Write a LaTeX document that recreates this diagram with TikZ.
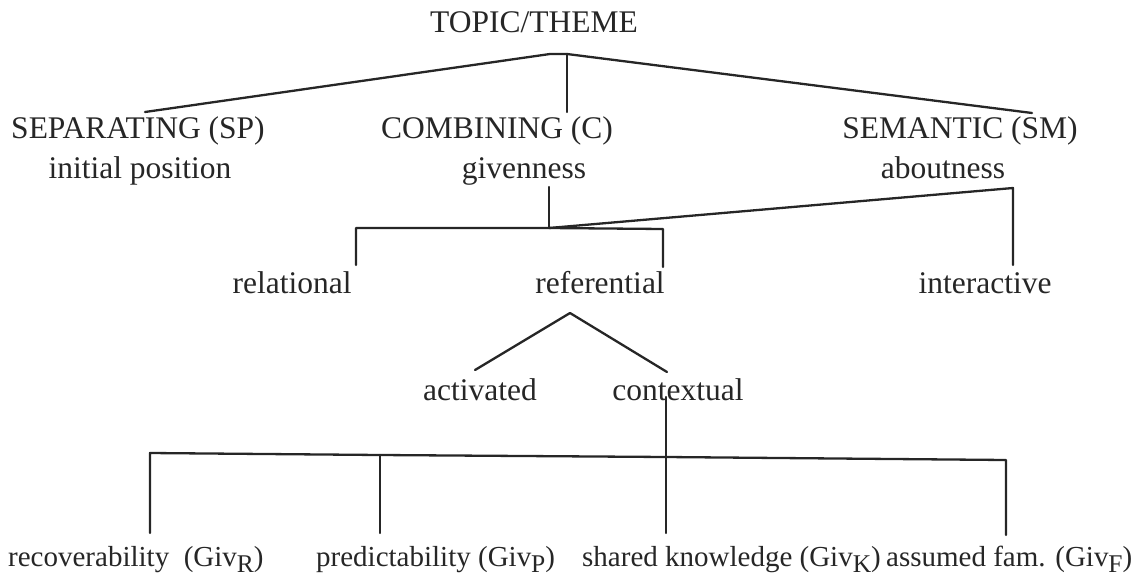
\documentclass[tikz,border=0pt]{standalone}
\usepackage{fontspec}
\setmainfont{Liberation Serif}
\definecolor{ink}{HTML}{262626}
\newcommand{\gsub}[1]{\raisebox{-6pt}{\fontsize{25.5}{26}\selectfont #1}}
\begin{document}
\begin{tikzpicture}[x=1pt,y=-1pt,
  lbl/.style={inner sep=0pt, anchor=base, font=\fontsize{31.5}{36}\selectfont, text=ink},
  blbl/.style={inner sep=0pt, anchor=base west, font=\fontsize{29}{34}\selectfont, text=ink},
  ln/.style={draw=ink, line width=2.3pt, line join=round, line cap=round}]
\useasboundingbox (0,0) rectangle (1139,578);
% labels
\node[lbl] (topic) at (534,33) {TOPIC/THEME};
\node[lbl] (sep) at (138,138) {SEPARATING (SP)};
\node[lbl] (comb) at (497,138) {COMBINING (C)};
\node[lbl] (sem) at (960,138) {SEMANTIC (SM)};
\node[lbl] (init) at (140,178) {initial position};
\node[lbl] (giv) at (524,178) {givenness};
\node[lbl] (about) at (943,178) {aboutness};
\node[lbl] (rel) at (292,293) {relational};
\node[lbl] (ref) at (600,293) {referential};
\node[lbl] (inter) at (985,293) {interactive};
\node[lbl] (act) at (480,400) {activated};
\node[lbl] (ctx) at (678,400) {contextual};
\node[blbl] (rec) at (8,566) {recoverability\ \ (Giv\gsub{R})};
\node[blbl] (pred) at (316,566) {predictability (Giv\gsub{P})};
\node[blbl] (shared) at (582,566) {shared knowledge (Giv\gsub{K})};
\node[blbl] (assm) at (886,566) {assumed fam. (Giv\gsub{F})};
% junction points
\coordinate (apL) at (550,54);
\coordinate (apR) at (567,54);
\coordinate (sepT) at (145,112);
\coordinate (combT) at (567,112);
\coordinate (semT) at (1032,113);
\coordinate (givB) at (549,187);
\coordinate (givJ) at (549,228);
\coordinate (barL) at (356,228);
\coordinate (barR) at (663,229);
\coordinate (relT) at (356,265);
\coordinate (refT) at (663,267);
\coordinate (abC) at (1013,188);
\coordinate (intT) at (1013,265);
\coordinate (triA) at (570,313);
\coordinate (actT) at (475,370);
\coordinate (ctxT) at (667,372);
\coordinate (ctxB) at (666,397);
\coordinate (botJ) at (666,457);
\coordinate (botL) at (150,453);
\coordinate (botR) at (1006,460);
\coordinate (b1) at (380,455);
\coordinate (recT) at (150,533);
\coordinate (predT) at (380,533);
\coordinate (shT) at (666,533);
\coordinate (asT) at (1006,535);
% connectors
\draw[ln] (sepT) -- (apL) -- (apR) -- (semT);
\draw[ln] (apR) -- (combT);
\draw[ln] (givB) -- (givJ);
\draw[ln] (relT) -- (barL) -- (givJ) -- (barR) -- (refT);
\draw[ln] (givJ) -- (abC) -- (intT);
\draw[ln] (actT) -- (triA) -- (ctxT);
\draw[ln] (ctxB) -- (botJ);
\draw[ln] (recT) -- (botL) -- (b1) -- (botJ) -- (botR) -- (asT);
\draw[ln] (b1) -- (predT);
\draw[ln] (botJ) -- (shT);
\end{tikzpicture}
\end{document}
